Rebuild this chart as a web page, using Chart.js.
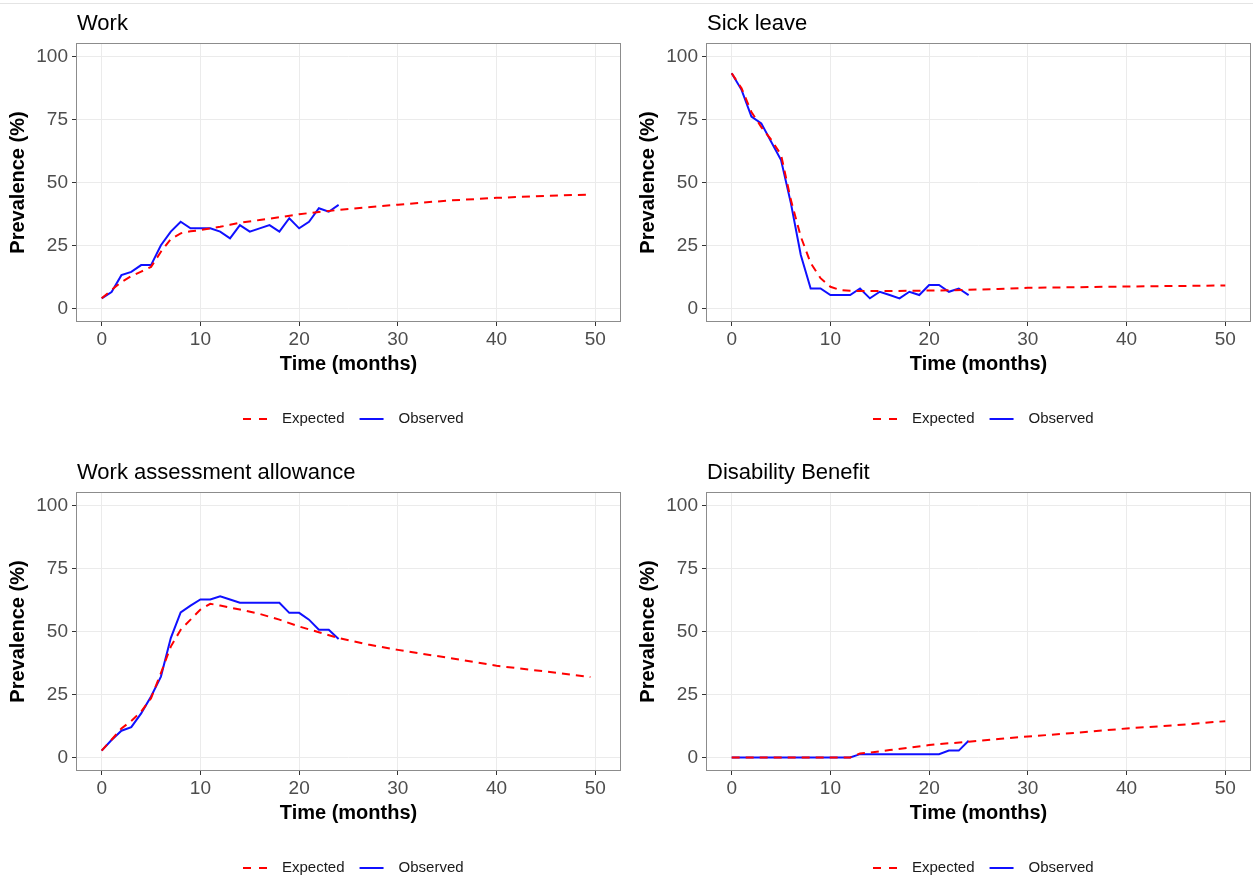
<!DOCTYPE html>
<html>
<head>
<meta charset="utf-8">
<script src="https://cdn.jsdelivr.net/npm/chart.js@4"></script>
<style>
  html, body { margin: 0; padding: 0; background: #fff; overflow: hidden; }
  body { width: 1253px; height: 888px; position: relative; }
  .topline { position: absolute; left: 0; top: 3px; width: 1253px; height: 1px; background: #e4e4e4; }
  canvas { position: absolute; }
</style>
</head>
<body>
<div class="topline"></div>
<canvas id="work" width="623" height="444" style="left:0;top:0"></canvas>
<canvas id="sick" width="623" height="444" style="left:630px;top:0"></canvas>
<canvas id="waa" width="623" height="444" style="left:0;top:449px"></canvas>
<canvas id="disab" width="623" height="444" style="left:630px;top:449px"></canvas>
<script>
// observed: monthly, 0..24
const obsMonths = [0,1,2,3,4,5,6,7,8,9,10,11,12,13,14,15,16,17,18,19,20,21,22,23,24];
const workObserved = [4.0,6.5,13.2,14.5,17.2,17.2,25.1,30.5,34.4,31.8,31.8,31.8,30.5,27.8,33.1,30.5,31.8,33.1,30.5,35.8,31.8,34.4,39.8,38.4,41.1];
const sickObserved = [93.4,86.8,76.2,73.5,66.2,58.9,41.7,21.2,7.9,7.9,5.3,5.3,5.3,7.9,4.0,6.6,5.3,4.0,6.6,5.3,9.3,9.3,6.6,7.9,5.3];
const waaObserved = [2.7,6.9,10.6,12.0,17.5,24.2,32.1,47.4,57.6,60.3,62.7,62.7,64.0,62.7,61.4,61.4,61.4,61.4,61.4,57.4,57.4,54.7,50.7,50.7,47.0];
const disabObserved = [0,0,0,0,0,0,0,0,0,0,0,0,0,1.3,1.3,1.3,1.3,1.3,1.3,1.3,1.3,1.3,2.7,2.7,6.6];

// expected curves
const expMonthsLeft = [0,1,2,3,4,5,6,7,8,9,10,11,12,13,14,16,18,20,22,24,27,30,35,40,45,49.5];
const expMonthsRight = [0,1,2,3,4,5,6,7,8,9,10,11,12,13,14,16,18,20,22,24,27,30,35,40,45,50];
const workExpected = [4.0,7.3,10.5,12.8,14.6,16.5,22.5,27.5,29.8,30.6,31.1,31.8,32.4,33.2,34.0,35.1,36.2,37.4,38.3,39.1,40.2,41.2,42.8,43.9,44.7,45.2];
const sickExpected = [93.4,87.4,78.0,72.0,67.0,61.0,43.0,28.5,18.0,12.0,8.6,7.3,7.0,6.9,6.9,6.9,7.0,7.1,7.2,7.4,7.7,8.2,8.4,8.7,8.9,9.1];
const waaExpected = [2.7,7.0,11.5,14.5,18.2,23.5,33.5,44.0,50.7,54.7,58.7,61.0,60.3,59.5,58.7,57.0,54.7,52.0,49.7,47.4,44.8,42.7,39.6,36.4,34.1,31.9];
const disabExpected = [0,0,0,0,0,0,0,0,0,0,0,0,0,1.6,1.9,2.9,3.9,4.9,5.6,6.2,7.3,8.3,9.8,11.5,12.8,14.4];

const xTicks = [0,10,20,30,40,50];
const yTicks = [0,25,50,75,100];

const FONT = '"Liberation Sans", Arial, Helvetica, sans-serif';

function pts(xs, ys) {
  return xs.map((x, i) => ({ x: x, y: ys[i] }));
}

// panel title, border and ggplot-style legend
function decor(title) {
  return {
    id: "decor",
    afterDraw(chart) {
      const ctx = chart.ctx;
      const a = chart.chartArea;
      ctx.save();
      ctx.strokeStyle = "#8c8c8c";
      ctx.lineWidth = 1;
      ctx.strokeRect(a.left - 0.5, a.top - 0.5, a.right - a.left + 1, a.bottom - a.top + 1);

      ctx.fillStyle = "#000";
      ctx.font = "22px " + FONT;
      ctx.textBaseline = "alphabetic";
      ctx.textAlign = "left";
      ctx.fillText(title, a.left, 30);

      let x = a.left + 166;
      const y = 419;
      ctx.font = "15px " + FONT;
      ctx.textBaseline = "middle";
      chart.data.datasets.forEach((d) => {
        ctx.save();
        ctx.strokeStyle = d.borderColor;
        ctx.lineWidth = 2;
        ctx.setLineDash(d.borderDash ? [8, 8] : []);
        ctx.beginPath();
        ctx.moveTo(x, y);
        ctx.lineTo(x + 24, y);
        ctx.stroke();
        ctx.restore();
        x += 39;
        ctx.fillStyle = "#1a1a1a";
        ctx.fillText(d.label, x, y);
        x += ctx.measureText(d.label).width + 15;
      });
      ctx.restore();
    },
  };
}

function makePanel(id, title, observed, expected, expMonths) {
  const ctx = document.getElementById(id).getContext("2d");
  return new Chart(ctx, {
    type: "line",
    data: {
      datasets: [
        {
          label: "Expected",
          data: pts(expMonths, expected),
          borderColor: "#ff0000",
          borderWidth: 2,
          borderDash: [8, 6],
          pointRadius: 0,
          fill: false,
          tension: 0,
        },
        {
          label: "Observed",
          data: pts(obsMonths, observed),
          borderColor: "#1010ff",
          borderWidth: 2,
          pointRadius: 0,
          fill: false,
          tension: 0,
        },
      ],
    },
    options: {
      responsive: false,
      animation: false,
      layout: { padding: { top: 44, right: 3, bottom: 65, left: 0 } },
      plugins: {
        legend: { display: false },
        tooltip: { enabled: false },
      },
      scales: {
        x: {
          type: "linear",
          min: -2.5,
          max: 52.5,
          afterBuildTicks: (s) => {
            s.ticks = xTicks.map((v) => ({ value: v }));
          },
          afterFit: (s) => {
            s.height = 58;
          },
          grid: { color: "#ebebeb", tickColor: "#333", tickLength: 5, lineWidth: 1 },
          border: { display: false },
          ticks: { color: "#4d4d4d", font: { size: 19, family: FONT }, padding: 2, maxRotation: 0 },
          title: {
            display: true,
            text: "Time (months)",
            color: "#000",
            font: { size: 20, weight: "bold", family: FONT },
            padding: { top: 0, bottom: 3 },
          },
        },
        y: {
          type: "linear",
          min: -5,
          max: 105,
          afterBuildTicks: (s) => {
            s.ticks = yTicks.map((v) => ({ value: v }));
          },
          afterFit: (s) => {
            s.width = 77;
          },
          grid: { color: "#ebebeb", tickColor: "#333", tickLength: 5, lineWidth: 1 },
          border: { display: false },
          ticks: { color: "#4d4d4d", font: { size: 19, family: FONT }, padding: 4 },
          title: {
            display: true,
            text: "Prevalence (%)",
            color: "#000",
            font: { size: 20, weight: "bold", family: FONT },
            padding: { top: 6, bottom: 0 },
          },
        },
      },
    },
    plugins: [decor(title)],
  });
}

makePanel("work", "Work", workObserved, workExpected, expMonthsLeft);
makePanel("sick", "Sick leave", sickObserved, sickExpected, expMonthsRight);
makePanel("waa", "Work assessment allowance", waaObserved, waaExpected, expMonthsLeft);
makePanel("disab", "Disability Benefit", disabObserved, disabExpected, expMonthsRight);
</script>
</body>
</html>
